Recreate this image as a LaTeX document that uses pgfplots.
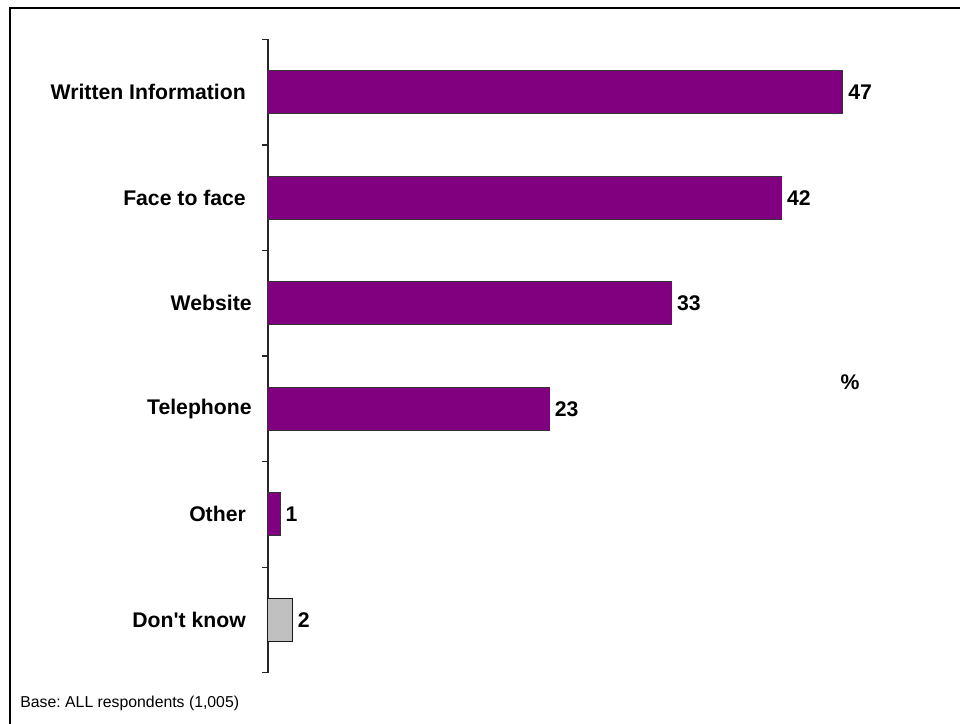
\documentclass[border=0pt]{standalone}
\usepackage{pgfplots}
\pgfplotsset{compat=1.18}
\usepackage{fontspec}
\setmainfont{Liberation Sans}
\definecolor{barpurple}{HTML}{800080}
\definecolor{dkgray}{HTML}{C0C0C0}
\frenchspacing
\begin{document}
\begin{tikzpicture}[x=1pt,y=1pt]
\useasboundingbox (0,0) rectangle (480,362);
\draw[line width=1pt] (5,0) -- (5,358.15) -- (480,358.15);
\begin{axis}[
 at={(134pt,25.65pt)}, anchor=south west,
 scale only axis, width=336.3pt, height=316.6pt,
 xbar, bar width=21.5pt, bar shift=0pt,
 xmin=0, xmax=55, ymin=-0.5, ymax=5.5,
 axis x line=none, axis y line=left,
 y axis line style={-, line width=0.6pt, color=black!85},
 ytick={0,...,5},
 yticklabels={Don\textquotesingle t know\kern2.9pt, Other\kern2.9pt, Telephone, Website, Face to face\kern2.9pt, Written Information\kern2.9pt},
 major tick length=0pt,
 minor ytick={-0.5,0.5,...,5.5}, minor tick length=3pt, tick align=outside,
 minor tick style={line width=0.6pt, color=black!85},
 yticklabel style={font=\bfseries\fontsize{10.6}{12}\selectfont, inner sep=0pt, xshift=-8pt},
 /pgf/number format/assume math mode=true,
 nodes near coords,
 nodes near coords style={font=\bfseries\fontsize{10.6}{12}\selectfont, anchor=west, inner sep=0pt, xshift=2.5pt, color=black},
 clip=false,
]
\addplot[fill=barpurple, draw=black!80, line width=0.5pt] coordinates {(47,5) (42,4) (33,3) (23,2) (1,1)};
\addplot[fill=dkgray, draw=black!90, line width=0.5pt] coordinates {(2,0)};
\node[font=\bfseries\fontsize{10.6}{12}\selectfont] at (axis cs:47.6,2.25) {\%};
\end{axis}
\node[anchor=west, inner sep=0pt, font=\fontsize{7.9}{9.5}\selectfont] at (10,10.15) {Base: ALL respondents (1,005)};
\end{tikzpicture}
\end{document}
